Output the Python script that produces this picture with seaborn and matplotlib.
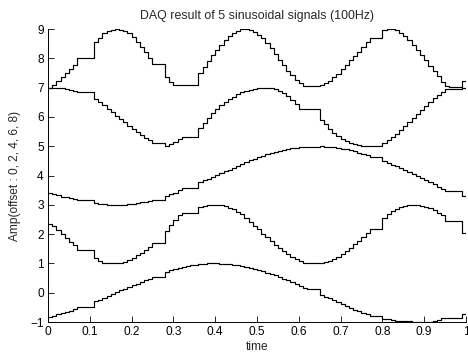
import numpy as np
import pandas as pd
import matplotlib
matplotlib.use("Agg")
import matplotlib.pyplot as plt
import seaborn as sns

# sample times (100 Hz, 0..1 s)
time = [round(i * 0.01, 2) for i in range(101)]

sig_0 = [-0.82, -0.78, -0.74, -0.70, -0.66, -0.61, -0.56, -0.50, -0.50, -0.50,
         -0.50, -0.30, -0.24, -0.17, -0.11, -0.05, 0.02, 0.08, 0.14, 0.20,
         0.26, 0.31, 0.37, 0.42, 0.47, 0.52, 0.52, 0.52, 0.72, 0.78,
         0.82, 0.86, 0.89, 0.92, 0.94, 0.96, 0.98, 0.99, 1.00, 1.00,
         1.00, 0.99, 0.98, 0.97, 0.95, 0.93, 0.91, 0.88, 0.85, 0.81,
         0.77, 0.73, 0.68, 0.64, 0.59, 0.53, 0.48, 0.42, 0.36, 0.30,
         0.23, 0.15, 0.13, 0.13, 0.13, -0.07, -0.13, -0.19, -0.25, -0.31,
         -0.40, -0.47, -0.53, -0.58, -0.64, -0.69, -0.74, -0.78, -0.78, -0.78,
         -0.89, -0.91, -0.93, -0.95, -0.96, -0.97, -0.98, -0.99, -1.00, -1.00,
         -1.00, -0.99, -0.97, -0.93, -0.88, -0.85, -0.85, -0.85, -0.85, -0.72,
         -0.72]

sig_2 = [2.33, 2.26, 2.13, 2.00, 1.87, 1.74, 1.62, 1.45, 1.45, 1.45,
         1.45, 1.19, 1.08, 1.03, 1.01, 1.00, 1.00, 1.02, 1.06, 1.12,
         1.19, 1.27, 1.36, 1.46, 1.57, 1.68, 1.68, 1.68, 2.10, 2.30,
         2.48, 2.66, 2.73, 2.73, 2.73, 2.73, 2.93, 2.97, 2.99, 3.00,
         3.00, 2.98, 2.95, 2.90, 2.84, 2.77, 2.70, 2.55, 2.42, 2.29,
         2.16, 2.02, 1.89, 1.76, 1.64, 1.52, 1.41, 1.31, 1.22, 1.14,
         1.08, 1.03, 1.02, 1.02, 1.02, 1.02, 1.04, 1.08, 1.15, 1.23,
         1.32, 1.42, 1.53, 1.65, 1.78, 1.91, 2.03, 2.16, 2.16, 2.16,
         2.56, 2.68, 2.78, 2.85, 2.91, 2.95, 2.98, 3.00, 2.99, 2.97,
         2.93, 2.88, 2.81, 2.73, 2.64, 2.45, 2.45, 2.45, 2.45, 2.05,
         2.05]

sig_4 = [3.42, 3.37, 3.32, 3.28, 3.25, 3.22, 3.19, 3.16, 3.16, 3.16,
         3.16, 3.07, 3.04, 3.02, 3.01, 3.00, 3.00, 3.00, 3.01, 3.02,
         3.04, 3.06, 3.08, 3.11, 3.14, 3.17, 3.17, 3.17, 3.30, 3.36,
         3.42, 3.50, 3.58, 3.58, 3.58, 3.58, 3.77, 3.83, 3.89, 3.96,
         4.02, 4.08, 4.14, 4.20, 4.26, 4.32, 4.40, 4.46, 4.52, 4.57,
         4.62, 4.67, 4.72, 4.76, 4.80, 4.84, 4.87, 4.90, 4.93, 4.95,
         4.97, 4.98, 4.98, 4.98, 4.98, 5.00, 4.99, 4.98, 4.97, 4.95,
         4.92, 4.89, 4.86, 4.82, 4.78, 4.74, 4.69, 4.64, 4.64, 4.64,
         4.48, 4.42, 4.37, 4.31, 4.25, 4.19, 4.12, 4.05, 3.98, 3.91,
         3.84, 3.77, 3.70, 3.62, 3.54, 3.46, 3.46, 3.46, 3.46, 3.30,
         3.30]

sig_6 = [7.00, 7.00, 6.99, 6.97, 6.95, 6.92, 6.89, 6.86, 6.86, 6.86,
         6.86, 6.60, 6.50, 6.39, 6.27, 6.16, 6.04, 5.93, 5.82, 5.70,
         5.59, 5.49, 5.39, 5.28, 5.20, 5.10, 5.10, 5.10, 5.00, 5.06,
         5.14, 5.24, 5.32, 5.32, 5.32, 5.32, 5.62, 5.80, 5.97, 6.12,
         6.27, 6.39, 6.50, 6.60, 6.69, 6.77, 6.84, 6.89, 6.93, 6.96,
         6.98, 7.00, 7.00, 6.98, 6.94, 6.88, 6.80, 6.70, 6.58, 6.45,
         6.28, 6.28, 6.28, 6.28, 6.28, 5.90, 5.75, 5.60, 5.46, 5.35,
         5.26, 5.18, 5.11, 5.06, 5.03, 5.01, 5.00, 5.00, 5.00, 5.00,
         5.12, 5.20, 5.30, 5.42, 5.55, 5.68, 5.82, 5.96, 6.10, 6.24,
         6.38, 6.51, 6.64, 6.76, 6.86, 6.96, 6.96, 6.96, 6.96, 7.00,
         7.00]

sig_8 = [7.00, 7.10, 7.22, 7.36, 7.50, 7.64, 7.78, 8.02, 8.02, 8.02,
         8.02, 8.57, 8.70, 8.85, 8.93, 8.98, 9.00, 8.98, 8.93, 8.85,
         8.72, 8.56, 8.40, 8.22, 8.02, 7.82, 7.82, 7.82, 7.37, 7.20,
         7.08, 7.08, 7.08, 7.08, 7.08, 7.08, 7.50, 7.70, 7.92, 8.12,
         8.30, 8.47, 8.62, 8.75, 8.86, 8.94, 8.99, 9.00, 8.97, 8.91,
         8.81, 8.68, 8.52, 8.34, 8.15, 7.95, 7.76, 7.58, 7.42, 7.27,
         7.15, 7.06, 7.06, 7.06, 7.06, 7.10, 7.16, 7.24, 7.35, 7.48,
         7.62, 7.77, 7.93, 8.08, 8.23, 8.40, 8.55, 8.70, 8.70, 8.70,
         8.95, 9.00, 8.99, 8.95, 8.88, 8.75, 8.62, 8.47, 8.30, 8.12,
         7.93, 7.74, 7.56, 7.38, 7.20, 7.06, 7.02, 7.02, 7.02, 7.24,
         7.24]

signals = {"0": sig_0, "2": sig_2, "4": sig_4, "6": sig_6, "8": sig_8}

title_text = "DAQ result of 5 sinusoidal signals (100Hz)"
x_label = "time"
y_label = "Amp(offset : 0, 2, 4, 6, 8)"
x_ticks = [0, 0.1, 0.2, 0.3, 0.4, 0.5, 0.6, 0.7, 0.8, 0.9, 1]
x_tick_labels = ["0", "0.1", "0.2", "0.3", "0.4", "0.5", "0.6", "0.7", "0.8", "0.9", "1"]
y_ticks = list(range(-1, 10))

frames = []
for name, vals in signals.items():
    frames.append(pd.DataFrame({"time": time, "amp": vals, "offset": name}))
df = pd.concat(frames, ignore_index=True)

sns.set_style("ticks")
plt.rcParams["font.family"] = ["Liberation Sans", "DejaVu Sans"]
plt.rcParams["xtick.direction"] = "in"
plt.rcParams["ytick.direction"] = "in"

fig = plt.figure(figsize=(4.68, 3.56), dpi=100)
ax = fig.add_axes([0.1026, 0.0955, 0.893, 0.823])

sns.lineplot(data=df, x="time", y="amp", hue="offset", units="offset",
             estimator=None, palette=["black"] * 5, legend=False,
             drawstyle="steps-post", linewidth=0.85, ax=ax, sort=True)

ax.set_xlim(0, 1)
ax.set_ylim(-1, 9)
ax.set_xticks(x_ticks)
ax.set_xticklabels(x_tick_labels)
ax.set_yticks(y_ticks)
ax.tick_params(axis="both", direction="in", length=4, width=0.6,
               labelsize=8.6, pad=3, colors="black")
for side in ["top", "right"]:
    ax.spines[side].set_visible(False)
for side in ["left", "bottom"]:
    ax.spines[side].set_linewidth(0.7)
    ax.spines[side].set_color("black")

ax.set_title(title_text, fontsize=8.9, pad=7)
ax.set_xlabel(x_label, fontsize=8.6, labelpad=2)
ax.set_ylabel(y_label, fontsize=8.6, labelpad=7)

fig.savefig("out.png", dpi=100)
